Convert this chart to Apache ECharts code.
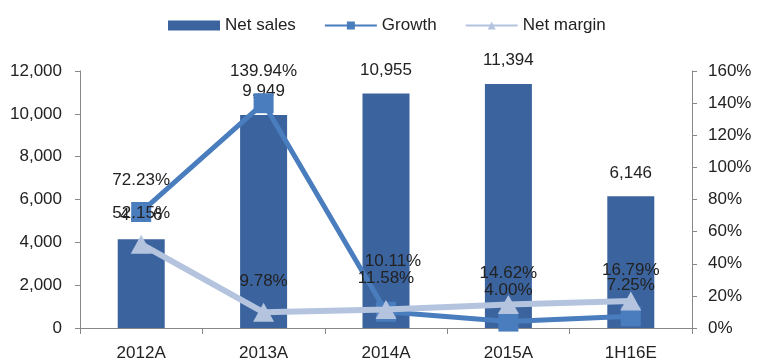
<!DOCTYPE html>
<html>
<head>
<meta charset="utf-8">
<script src="https://cdn.jsdelivr.net/npm/echarts@6/dist/echarts.min.js"></script>
<style>
  html, body { margin: 0; padding: 0; background: #fff; }
  #chart { width: 758px; height: 362px; }
</style>
</head>
<body>
<div id="chart"></div>
<script>
// Periods on the x axis
const categories = ['2012A', '2013A', '2014A', '2015A', '1H16E'];
// Net sales (left axis)
const netSales = [4146, 9949, 10955, 11394, 6146];
// Year-on-year growth of net sales, % (right axis)
const growth = [72.23, 139.94, 10.11, 4.00, 7.25];
// Net margin, % (right axis)
const netMargin = [52.15, 9.78, 11.58, 14.62, 16.79];

const FONT = '"Liberation Sans", Arial, sans-serif';
const BAR = '#3b649f';
const GROWTH = '#4a7dbd';
const MARGIN = '#b4c4df';

const pct = v => v.toFixed(2) + '%';

const chart = echarts.init(document.getElementById('chart'), null, { renderer: 'canvas' });

chart.setOption({
  animation: false,
  textStyle: { fontFamily: FONT },
  legend: {
    top: 12,
    left: 163,
    itemWidth: 52,
    itemHeight: 10,
    itemGap: 28,
    textStyle: { fontSize: 17, color: '#222', fontFamily: FONT },
    data: [
      { name: 'Net sales', icon: 'rect' },
      { name: 'Growth' },
      { name: 'Net margin' }
    ]
  },
  grid: { left: 80, right: 66, top: 71, bottom: 33, containLabel: false },
  xAxis: {
    type: 'category',
    data: categories,
    axisLine: { lineStyle: { color: '#888', width: 1 } },
    axisTick: { show: true, length: 6, lineStyle: { color: '#888' } },
    axisLabel: { fontSize: 17, color: '#222', margin: 17, fontFamily: FONT }
  },
  yAxis: [
    {
      type: 'value', min: 0, max: 12000, interval: 2000,
      axisLine: { show: true, lineStyle: { color: '#888' } },
      axisTick: { show: true, length: 5, lineStyle: { color: '#888' } },
      splitLine: { show: false },
      axisLabel: {
        fontSize: 17, color: '#222', margin: 18, fontFamily: FONT,
        formatter: v => v.toLocaleString('en-US')
      }
    },
    {
      type: 'value', min: 0, max: 160, interval: 20,
      axisLine: { show: true, lineStyle: { color: '#888' } },
      axisTick: { show: true, length: 5, lineStyle: { color: '#888' } },
      splitLine: { show: false },
      axisLabel: {
        fontSize: 17, color: '#222', margin: 16, fontFamily: FONT,
        formatter: v => v + '%'
      }
    }
  ],
  series: [
    {
      name: 'Net sales',
      type: 'bar',
      yAxisIndex: 0,
      barWidth: 47,
      data: netSales,
      itemStyle: { color: BAR },
      label: {
        show: true, position: 'top', distance: 15,
        fontSize: 17, color: '#222', fontFamily: FONT,
        formatter: p => p.value.toLocaleString('en-US')
      },
      z: 1
    },
    {
      name: 'Growth',
      type: 'line',
      yAxisIndex: 1,
      data: growth.map((v, i) => i === 2
        ? { value: v, label: { offset: [7, -19] } }
        : v),
      symbol: 'rect',
      symbolSize: 20,
      lineStyle: { color: GROWTH, width: 5 },
      itemStyle: { color: GROWTH },
      label: {
        show: true, position: 'top', distance: 13,
        fontSize: 17, color: '#222', fontFamily: FONT,
        formatter: p => pct(p.value)
      },
      z: 3
    },
    {
      name: 'Net margin',
      type: 'line',
      yAxisIndex: 1,
      data: netMargin,
      symbol: 'triangle',
      symbolSize: [21, 19],
      lineStyle: { color: MARGIN, width: 6 },
      itemStyle: { color: MARGIN },
      label: {
        show: true, position: 'top', distance: 13,
        fontSize: 17, color: '#222', fontFamily: FONT,
        formatter: p => pct(p.value)
      },
      z: 4
    }
  ]
});
</script>
</body>
</html>
